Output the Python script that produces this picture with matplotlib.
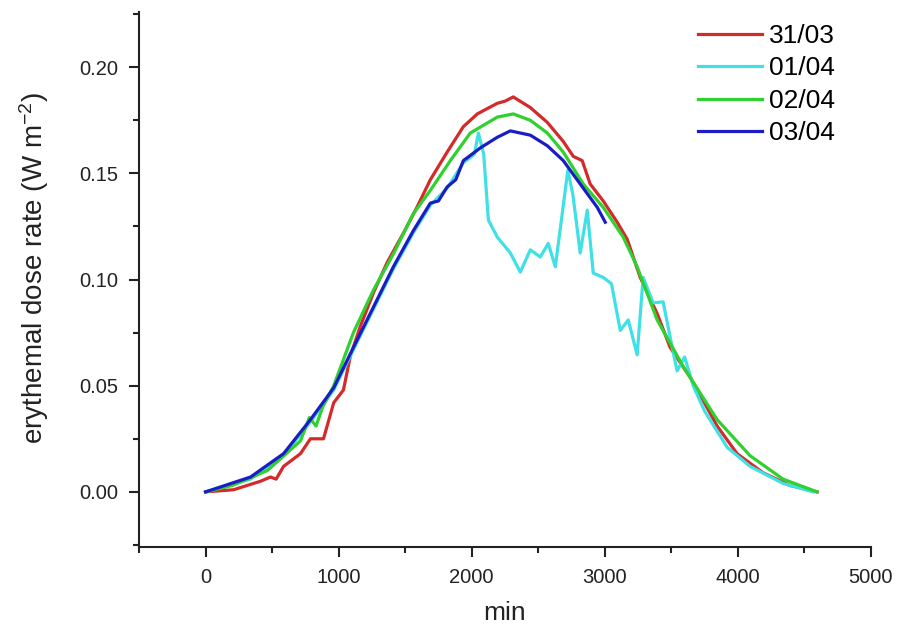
import matplotlib.pyplot as plt
from matplotlib.ticker import MultipleLocator

plt.rcParams['font.family'] = ['Liberation Sans', 'DejaVu Sans']
plt.rcParams['mathtext.default'] = 'regular'

labels = ['31/03', '01/04', '02/04', '03/04']
colors = ['#d42a2a', '#3fe0e6', '#2ed12e', '#1c1cc4']

x_3103 = [0, 210, 413, 488, 530, 586, 713, 788, 886, 963, 1036, 1088, 1163, 1263,
          1364, 1488, 1588, 1689, 1815, 1937, 2042, 2192, 2250, 2312, 2440, 2568,
          2688, 2763, 2830, 2890, 2988, 3093, 3168, 3266, 3393, 3491, 3641, 3739,
          3844, 3994, 4189, 4392, 4595]
y_3103 = [0.000, 0.001, 0.005, 0.007, 0.006, 0.012, 0.018, 0.025, 0.025, 0.042,
          0.048, 0.064, 0.078, 0.094, 0.108, 0.122, 0.134, 0.147, 0.160, 0.172,
          0.178, 0.183, 0.184, 0.186, 0.181, 0.174, 0.165, 0.158, 0.156, 0.145,
          0.137, 0.127, 0.119, 0.101, 0.084, 0.068, 0.054, 0.043, 0.031, 0.018,
          0.009, 0.003, 0.000]

x_0104 = [0, 338, 586, 788, 963, 1111, 1261, 1411, 1561, 1689, 1815, 1937, 2020,
          2050, 2090, 2125, 2192, 2290, 2365, 2440, 2515, 2575, 2628, 2680, 2722,
          2760, 2815, 2868, 2913, 2988, 3050, 3116, 3176, 3243, 3288, 3363, 3438,
          3500, 3543, 3600, 3664, 3750, 3919, 4092, 4339, 4565]
y_0104 = [0.000, 0.006, 0.017, 0.033, 0.048, 0.067, 0.086, 0.105, 0.122, 0.135,
          0.143, 0.155, 0.159, 0.169, 0.159, 0.128, 0.120, 0.1125, 0.1035, 0.114,
          0.1106, 0.117, 0.106, 0.131, 0.1515, 0.140, 0.1125, 0.1327, 0.103, 0.101,
          0.098, 0.076, 0.081, 0.0645, 0.101, 0.089, 0.0895, 0.070, 0.057, 0.0635,
          0.050, 0.038, 0.021, 0.012, 0.004, 0.000]

x_0204 = [0, 200, 463, 713, 780, 830, 880, 963, 1111, 1261, 1411, 1561, 1689, 1839,
          1989, 2192, 2312, 2440, 2568, 2688, 2838, 2988, 3138, 3243, 3393, 3589,
          3844, 4092, 4339, 4595]
y_0204 = [0.000, 0.003, 0.010, 0.024, 0.035, 0.031, 0.040, 0.050, 0.075, 0.095,
          0.112, 0.131, 0.142, 0.156, 0.169, 0.1765, 0.178, 0.175, 0.169, 0.160,
          0.145, 0.134, 0.120, 0.106, 0.081, 0.059, 0.034, 0.017, 0.006, 0.000]

x_0304 = [0, 338, 586, 788, 963, 1111, 1261, 1411, 1561, 1689, 1750, 1815, 1880,
          1937, 2065, 2192, 2290, 2440, 2568, 2688, 2815, 2943, 3003]
y_0304 = [0.000, 0.007, 0.018, 0.034, 0.049, 0.068, 0.087, 0.106, 0.123, 0.136,
          0.137, 0.1436, 0.147, 0.156, 0.162, 0.167, 0.170, 0.168, 0.163, 0.156,
          0.145, 0.134, 0.127]

series = [(x_3103, y_3103), (x_0104, y_0104), (x_0204, y_0204), (x_0304, y_0304)]

fig = plt.figure(figsize=(8.97, 6.31), dpi=100)
ax = fig.add_axes([0.155, 0.133, 0.816, 0.848])

for (xs, ys), lab, col in zip(series, labels, colors):
    ax.plot(xs, ys, color=col, lw=2.3, label=lab)

ax.set_xlim(-500, 5000)
ax.set_ylim(-0.026, 0.226)
ax.xaxis.set_major_locator(MultipleLocator(1000))
ax.xaxis.set_minor_locator(MultipleLocator(500))
ax.yaxis.set_major_locator(MultipleLocator(0.05))
ax.yaxis.set_minor_locator(MultipleLocator(0.025))
ax.yaxis.set_major_formatter(plt.FuncFormatter(lambda v, p: f'{v:.2f}'))

for side in ['top', 'right']:
    ax.spines[side].set_visible(False)
for side in ['left', 'bottom']:
    ax.spines[side].set_linewidth(1.5)
    ax.spines[side].set_color('#222222')

ax.tick_params(which='major', direction='out', length=7, width=1.5,
               labelsize=14.5, colors='#222222', pad=8)
ax.tick_params(which='minor', direction='out', length=4, width=1.5, colors='#222222')

ax.set_xlabel('min', fontsize=19, color='#222222', labelpad=10)
ax.set_ylabel('erythemal dose rate (W m$^{-2}$)', fontsize=20, color='#222222')
ax.yaxis.set_label_coords(-0.12, 0.521)

ax.legend(loc='upper left', bbox_to_anchor=(698 / 897, 1 - 24 / 631),
          bbox_transform=fig.transFigure, frameon=False, fontsize=19,
          handlelength=2.42, handletextpad=0.27, labelspacing=0.32,
          borderpad=0, borderaxespad=0)

fig.savefig('out.png', dpi=100)
